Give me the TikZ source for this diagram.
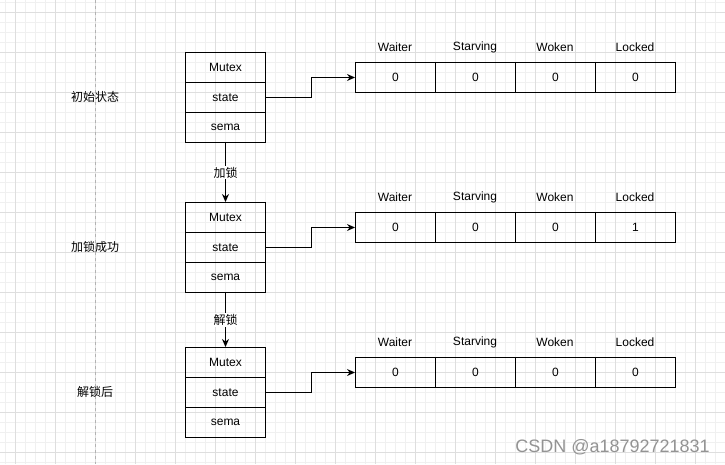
\documentclass[tikz,border=0pt]{standalone}
\usepackage{fontspec}
\setmainfont{Liberation Sans}
\newfontfamily\cjk{Noto Sans CJK SC}
\usetikzlibrary{arrows.meta}
\definecolor{minorg}{HTML}{F0F0F0}
\definecolor{majorg}{HTML}{DEDEDE}
\begin{document}
\begin{tikzpicture}[x=1pt,y=-1pt,
  cell/.style={draw, line width=1pt, minimum width=80pt, minimum height=30pt, inner sep=0pt, anchor=north west, font=\fontsize{12}{14}\selectfont},
  lbl/.style={font=\fontsize{12}{14}\selectfont, inner sep=0pt},
  zh/.style={font=\cjk\fontsize{12}{14}\selectfont, inner sep=1pt},
  arr/.style={line width=1pt, -{Stealth[length=8pt,width=7pt]}}]
\useasboundingbox (0,0) rectangle (725,464);
\fill[white] (0,0) rectangle (725,464);
\foreach \x in {5,15,...,725} \draw[minorg, line width=0.8pt] (\x,0) -- (\x,464);
\foreach \y in {2,12,...,464} \draw[minorg, line width=0.8pt] (0,\y) -- (725,\y);
\foreach \x in {15,55,...,725} \draw[majorg, line width=0.8pt] (\x,0) -- (\x,464);
\foreach \y in {12,52,...,464} \draw[majorg, line width=0.8pt] (0,\y) -- (725,\y);
\draw[gray!60, line width=0.8pt, dash pattern=on 3pt off 3pt] (95,0) -- (95,464);

% left labels
\node[zh] (s1) at (95,97) {初始状态};
\node[zh] (s2) at (95,247) {加锁成功};
\node[zh] (s3) at (95,392) {解锁后};

% mutex structures
\foreach \i/\t in {1/52,2/202,3/347}{
  \node[cell] (m\i a) at (185,\t) {Mutex};
  \node[cell] (m\i b) at (185,\t+30) {state};
  \node[cell] (m\i c) at (185,\t+60) {sema};
}

% arrays
\foreach \i/\t/\l in {1/62/0,2/212/1,3/357/0}{
  \node[cell] (a\i w) at (355,\t) {0};
  \node[cell] (a\i s) at (435,\t) {0};
  \node[cell] (a\i k) at (515,\t) {0};
  \node[cell] (a\i l) at (595,\t) {\l};
  \node[lbl] (h\i w) at (395,\t-15) {Waiter};
  \node[lbl] (h\i s) at (475,\t-15) {Starving};
  \node[lbl] (h\i k) at (555,\t-15) {Woken};
  \node[lbl] (h\i l) at (635,\t-15) {Locked};
  \draw[arr] (m\i b.east) -- ++(45,0) |- (a\i w.west);
}

% transitions
\draw[arr] (m1c.south) -- node[zh, fill=white] {加锁} (m2a.north);
\draw[arr] (m2c.south) -- node[zh, fill=white] {解锁} (m3a.north);

% watermark
\node[font=\fontsize{18}{20}\selectfont, text=gray!85, inner sep=0pt, anchor=east] (wm) at (710,447) {CSDN @a18792721831};
\end{tikzpicture}
\end{document}
